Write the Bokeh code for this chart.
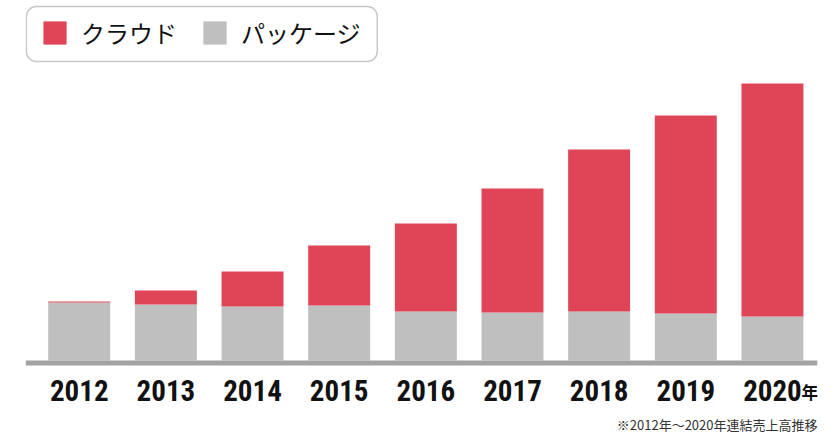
from bokeh.plotting import figure
from bokeh.models import (ColumnDataSource, Range1d, Legend, LegendItem, Label, Span,
                          BoxAnnotation)
from bokeh.core.properties import value
from bokeh.embed import file_html
from bokeh.resources import INLINE

# ---- data (relative sales) ----
years = ["2012", "2013", "2014", "2015", "2016", "2017", "2018", "2019", "2020"]
package = [58, 56, 54, 55, 49, 48, 49, 47, 44]
cloud = [1, 14, 35, 60, 88, 124, 162, 198, 233]
series_names = ["クラウド", "パッケージ"]
year_suffix = "年"
footnote = "※2012年～2020年連結売上高推移"

RED = "#E04457"
GRAY = "#BFBFBF"
JP = "Noto Sans CJK JP"
NUM_FONT = "Roboto Condensed, DejaVu Sans Condensed, Roboto"

xs = list(range(len(years)))
source = ColumnDataSource(dict(x=xs, package=package, cloud=cloud, label=years))

p = figure(width=834, height=433, output_backend="svg", toolbar_location=None,
           x_range=Range1d(-0.62, 8.52), y_range=Range1d(-73, 360),
           x_axis_location=None, y_axis_location=None,
           min_border_left=25, min_border_right=17,
           min_border_top=0, min_border_bottom=0)
p.outline_line_color = None
p.grid.visible = False

rs = p.vbar_stack(["package", "cloud"], x="x", width=0.715, source=source,
                  color=[GRAY, RED], line_color=None)

# baseline
p.add_layout(Span(location=-2.5, dimension="width", line_color="#A3A3A3", line_width=5))

# year labels
p.text(x="x", y=0, text="label", source=source, y_offset=30,
       text_font=value(NUM_FONT), text_font_style="bold", text_font_size="29px",
       text_color="#111111", text_align="center", text_baseline="middle")
p.text(x=[xs[-1]], y=[0], text=[year_suffix], x_offset=29, y_offset=31,
       text_font=value(JP), text_font_style="bold", text_font_size="17px",
       text_color="#111111", text_align="left", text_baseline="middle")

# legend frame (rounded box)
p.add_layout(BoxAnnotation(left=-0.61, right=3.44, bottom=299, top=354,
                           fill_color="white", fill_alpha=1.0,
                           line_color="#C8C8C8", line_width=1.5, line_alpha=1.0,
                           border_radius=10))

legend = Legend(items=[LegendItem(label=series_names[0], renderers=[rs[1]]),
                       LegendItem(label=series_names[1], renderers=[rs[0]])],
                orientation="horizontal", location=(15, 383),
                glyph_width=29, glyph_height=29, label_height=29,
                label_standoff=12, spacing=23, padding=11, margin=0,
                label_text_font=JP, label_text_font_size="24px",
                label_text_color="#111111",
                border_line_color=None, background_fill_color=None)
p.add_layout(legend, "center")

p.add_layout(Label(x=792, y=9, x_units="screen", y_units="screen",
                   text=footnote, text_font=JP,
                   text_font_size="13px", text_color="#333333",
                   text_align="right", text_baseline="middle"))

open("out.html", "w").write(file_html(p, INLINE))
